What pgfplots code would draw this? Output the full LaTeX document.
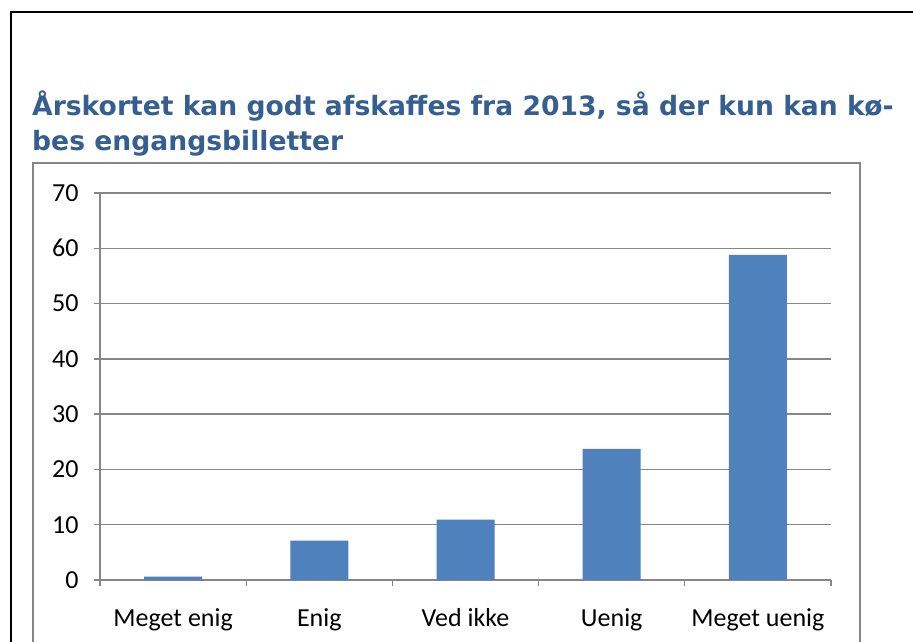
\documentclass[border=0pt]{standalone}
\usepackage{fontspec}
\setmainfont{Carlito}
\newfontfamily\titlefont{DejaVu Sans}
\usepackage{pgfplots}
\pgfplotsset{compat=1.18}
\definecolor{barblue}{RGB}{79,129,189}
\definecolor{titleblue}{RGB}{54,95,145}
\definecolor{gridgray}{RGB}{134,134,134}
\begin{document}
\begin{tikzpicture}[x=1pt,y=1pt]
\useasboundingbox (0,0) rectangle (913,642);
\fill[white] (0,0) rectangle (913,642);
\draw[black, line width=2.5pt] (11,0) -- (11,630) -- (913,630);
\draw[gridgray, line width=2.2pt] (33,0) -- (33,479) -- (860,479) -- (860,0);
\node[anchor=base west, inner sep=0pt, text=titleblue, font=\titlefont\bfseries\fontsize{26.6}{35}\selectfont] at (32,526) {Årskortet kan godt afskaffes fra 2013, så der kun kan kø-};
\node[anchor=base west, inner sep=0pt, text=titleblue, font=\titlefont\bfseries\fontsize{26.6}{35}\selectfont] at (32,491) {bes engangsbilletter};
\begin{axis}[
  at={(100pt,62pt)}, anchor=south west,
  scale only axis, width=731pt, height=387pt,
  xmin=-0.5, xmax=4.5, ymin=0, ymax=70,
  axis x line*=bottom, axis y line*=left,
  axis line style={gridgray, line width=1.3pt, -},
  ytick={0,10,...,70},
  xtick={0,1,2,3,4},
  xticklabels={Meget enig, Enig, Ved ikke, Uenig, Meget uenig},
  minor xtick={-0.5,0.5,1.5,2.5,3.5,4.5},
  tick align=outside,
  major tick length=6pt, minor tick length=6pt,
  major x tick style={draw=none},
  minor x tick style={gridgray, line width=1.3pt},
  major y tick style={gridgray, line width=1.3pt},
  ymajorgrids,
  major grid style={gridgray, line width=1.3pt},
  tick label style={font=\fontsize{26}{26}\selectfont},
  yticklabel style={xshift=-12pt},
  xticklabel style={yshift=-19pt},
  /pgf/number format/assume math mode=true,
]
\addplot[ybar, fill=barblue, draw=none, bar width=58pt] coordinates {(0,0.6) (1,7.1) (2,10.9) (3,23.7) (4,58.8)};
\end{axis}
\end{tikzpicture}
\end{document}
